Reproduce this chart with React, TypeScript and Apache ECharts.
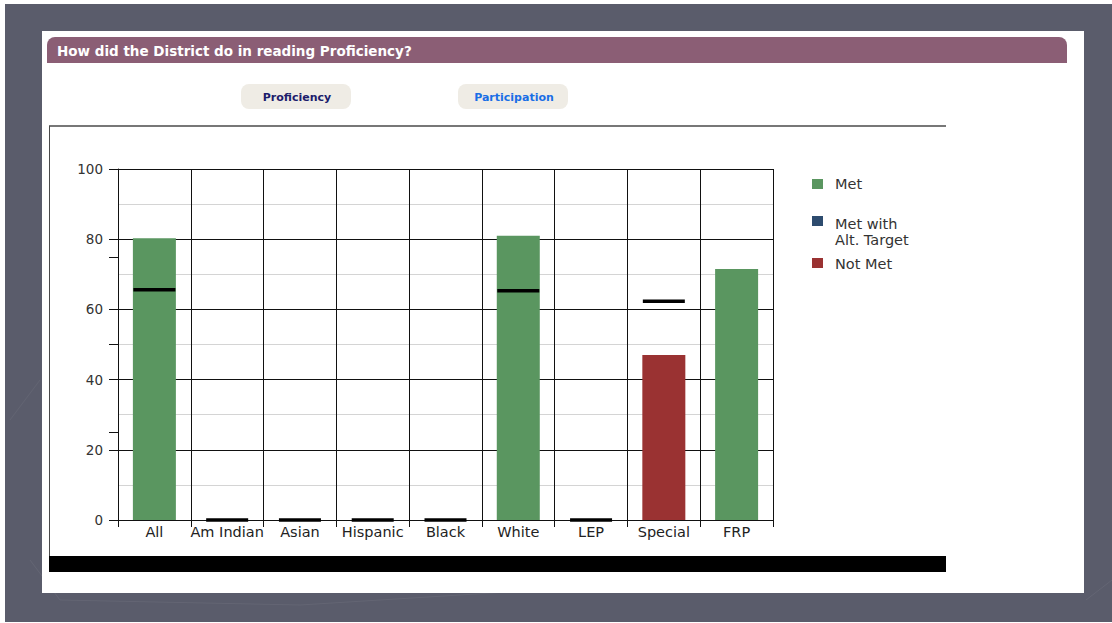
import React, { useEffect, useRef } from "react";
import * as echarts from "echarts";

const categories = ["All", "Am Indian", "Asian", "Hispanic", "Black", "White", "LEP", "Special", "FRP"];
const metValues = [80.3, null, null, null, null, 81.0, null, null, 71.5];
const metAltValues = [null, null, null, null, null, null, null, null, null];
const notMetValues = [null, null, null, null, null, null, null, 47.0, null];
const targetValues = [65.6, 0, 0, 0, 0, 65.3, 0, 62.3, null];
const legendNames = ["Met", "Met with Alt. Target", "Not Met"];
const legendColors = ["#5a9660", "#2d4b6e", "#9a3232"];

const FONT = "'DejaVu Sans', Verdana, sans-serif";

export default function App() {
  const ref = useRef<HTMLDivElement>(null);
  useEffect(() => {
    if (!ref.current) return;
    const chart = echarts.init(ref.current, null, { renderer: "svg" });
    const graphics: any[] = [
      { type: "rect", z: -10, shape: { x: 5, y: 4, width: 1107, height: 618 }, style: { fill: "#5a5c6b" } },
      { type: "polyline", z: -9, shape: { points: [[30, 560], [60, 600], [300, 605], [540, 590]] }, style: { stroke: "rgba(255,255,255,0.06)", lineWidth: 1, fill: null } },
      { type: "polyline", z: -9, shape: { points: [[10, 420], [40, 380]] }, style: { stroke: "rgba(255,255,255,0.05)", lineWidth: 1, fill: null } },
      { type: "polyline", z: -9, shape: { points: [[1086, 600], [1112, 580]] }, style: { stroke: "rgba(255,255,255,0.06)", lineWidth: 1, fill: null } },
      { type: "rect", z: -8, shape: { x: 42, y: 31, width: 1042, height: 562 }, style: { fill: "#ffffff" } },
      { type: "rect", z: -7, shape: { x: 47, y: 37, width: 1020, height: 26, r: [8, 8, 0, 0] }, style: { fill: "#8b5e75" } },
      { type: "text", z: -6, x: 57, y: 51, style: { text: "How did the District do in reading Proficiency?", fill: "#ffffff", font: "bold 13.5px " + FONT, textVerticalAlign: "middle" } },
      { type: "rect", z: -7, shape: { x: 241, y: 84, width: 110, height: 25, r: 8 }, style: { fill: "#efece5" } },
      { type: "text", z: -6, x: 297, y: 97, style: { text: "Proficiency", fill: "#1c1c6c", font: "bold 11px " + FONT, textAlign: "center", textVerticalAlign: "middle" } },
      { type: "rect", z: -7, shape: { x: 458, y: 84, width: 110, height: 25, r: 8 }, style: { fill: "#efece5" } },
      { type: "text", z: -6, x: 514, y: 97, style: { text: "Participation", fill: "#1a6ee6", font: "bold 11px " + FONT, textAlign: "center", textVerticalAlign: "middle" } },
      { type: "line", z: -6, shape: { x1: 49, y1: 126, x2: 946, y2: 126 }, style: { stroke: "#4a4a4a", lineWidth: 1.5 } },
      { type: "line", z: -6, shape: { x1: 49.5, y1: 126, x2: 49.5, y2: 572 }, style: { stroke: "#4a4a4a", lineWidth: 1 } },
      { type: "rect", z: -6, shape: { x: 49, y: 556, width: 897, height: 16 }, style: { fill: "#000000" } },
      // legend
      { type: "rect", shape: { x: 812, y: 179, width: 11, height: 10 }, style: { fill: legendColors[0] } },
      { type: "text", x: 835, y: 184, style: { text: "Met", fill: "#333333", font: "14.5px " + FONT, textVerticalAlign: "middle" } },
      { type: "rect", shape: { x: 812, y: 216, width: 11, height: 10 }, style: { fill: legendColors[1] } },
      { type: "text", x: 835, y: 224, style: { text: "Met with", fill: "#333333", font: "14.5px " + FONT, textVerticalAlign: "middle" } },
      { type: "text", x: 835, y: 240, style: { text: "Alt. Target", fill: "#333333", font: "14.5px " + FONT, textVerticalAlign: "middle" } },
      { type: "rect", shape: { x: 812, y: 258, width: 11, height: 10 }, style: { fill: legendColors[2] } },
      { type: "text", x: 835, y: 264, style: { text: "Not Met", fill: "#333333", font: "14.5px " + FONT, textVerticalAlign: "middle" } },
    ];

    const option: any = {
      animation: false,
      backgroundColor: "#ffffff",
      textStyle: { fontFamily: FONT },
      legend: { show: false, data: legendNames },
      grid: { left: 118, right: 339, top: 169, bottom: 103, containLabel: false },
      xAxis: {
        type: "category",
        data: categories,
        boundaryGap: true,
        axisLine: { show: true, lineStyle: { color: "#111111", width: 1 } },
        axisTick: { show: true, length: 7, lineStyle: { color: "#111111" } },
        axisLabel: { color: "#222222", fontSize: 14.5, fontFamily: FONT, margin: 4, interval: 0 },
        splitLine: { show: true, interval: 0, lineStyle: { color: "#111111", width: 1 } },
      },
      yAxis: [
        {
          type: "value",
          min: 0,
          max: 100,
          interval: 20,
          axisLine: { show: true, lineStyle: { color: "#111111", width: 1 } },
          axisTick: { show: true, length: 9, lineStyle: { color: "#111111" } },
          axisLabel: { color: "#333333", fontSize: 13.5, fontFamily: FONT, margin: 15 },
          splitLine: { show: true, lineStyle: { color: "#111111", width: 1 } },
          minorTick: { show: false, splitNumber: 2 },
          minorSplitLine: { show: true, lineStyle: { color: "#d4d4d4", width: 1 } },
        },
        {
          type: "value",
          position: "left",
          min: 0,
          max: 100,
          interval: 25,
          axisLine: { show: false },
          axisTick: { show: true, length: 9, lineStyle: { color: "#111111" } },
          axisLabel: { show: false },
          splitLine: { show: false },
        },
      ],
      series: [
        { name: legendNames[0], type: "bar", data: metValues, barWidth: 43, barGap: "-100%", itemStyle: { color: legendColors[0] } },
        { name: legendNames[1], type: "bar", data: metAltValues, barWidth: 43, barGap: "-100%", itemStyle: { color: legendColors[1] } },
        { name: legendNames[2], type: "bar", data: notMetValues, barWidth: 43, barGap: "-100%", itemStyle: { color: legendColors[2] } },
        {
          name: "Target",
          type: "scatter",
          data: targetValues,
          symbol: "rect",
          symbolSize: [42, 3.5],
          itemStyle: { color: "#000000", opacity: 1 },
          z: 5,
        },
      ],
      graphic: graphics,
    };
    chart.setOption(option);
    return () => chart.dispose();
  }, []);
  return <div ref={ref} style={{ position: "fixed", left: 0, top: 0, width: 1112, height: 623 }} />;
}
